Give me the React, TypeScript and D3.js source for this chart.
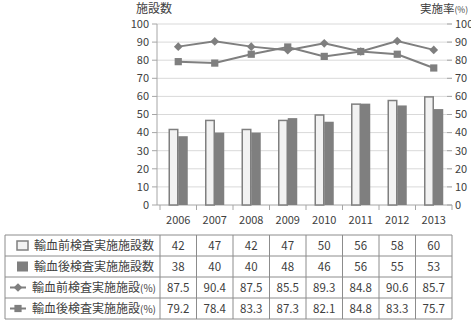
import * as d3 from 'd3'
import React from 'react'

const years = ['2006', '2007', '2008', '2009', '2010', '2011', '2012', '2013']
const preCount = [42, 47, 42, 47, 50, 56, 58, 60]
const postCount = [38, 40, 40, 48, 46, 56, 55, 53]
const preRate = [87.5, 90.4, 87.5, 85.5, 89.3, 84.8, 90.6, 85.7]
const postRate = [79.2, 78.4, 83.3, 87.3, 82.1, 84.8, 83.3, 75.7]
const seriesNames = ['輸血前検査実施施設数', '輸血後検査実施施設数', '輸血前検査実施施設', '輸血後検査実施施設']
const ticks = [0, 10, 20, 30, 40, 50, 60, 70, 80, 90, 100]

const W = 471, H = 322
const font = '"Noto Sans CJK JP", "Noto Sans", sans-serif'
const txt = '#404040'
const grey = '#7f7f7f'
const lineGrey = '#8c8c8c'

export default function App() {
  const
    x = d3.scaleBand<string>().domain(years).range([160, 452]),
    yL = d3.scaleLinear().domain([0, 100]).range([205, 24]),
    yR = d3.scaleLinear().domain([0, 100]).range([205, 24]),
    barW = 9.5,
    mid = (d: string) => x(d)! + x.bandwidth() / 2,
    line = (vals: number[]) => d3.line<number>().x((_, i) => mid(years[i])).y(v => yR(v))(vals) as string,
    diamond = d3.symbol().type(d3.symbolDiamond2).size(48)(),
    square = d3.symbol().type(d3.symbolSquare).size(52)(),
    rowTop = 235, rowH = 21, tableLeft = 5, headRight = 160,
    rows = [preCount, postCount, preRate, postRate]

  return (
    <svg width={W} height={H}
      style={{ position: 'absolute', left: 0, top: 0, display: 'block', fontFamily: font }}>
      <rect width={W} height={H} fill='#fff' />
      {/* gridlines */}
      {ticks.map(t => (
        <line key={t} x1={157} x2={452} y1={yL(t)} y2={yL(t)} stroke={t === 0 ? '#a6a6a6' : '#d9d9d9'} />
      ))}
      {/* left axis */}
      <line x1={157} x2={157} y1={yL(100)} y2={yL(0)} stroke='#a6a6a6' />
      {ticks.map(t => (
        <g key={'l' + t}>
          <line x1={152} x2={157} y1={yL(t)} y2={yL(t)} stroke='#a6a6a6' />
          <text x={149} y={yL(t)} dy='0.35em' textAnchor='end' fontSize={11} fill={txt}>{t}</text>
        </g>
      ))}
      {/* right axis */}
      {ticks.map(t => (
        <g key={'r' + t}>
          <line x1={447} x2={452} y1={yR(t)} y2={yR(t)} stroke='#a6a6a6' />
          <text x={455} y={yR(t)} dy='0.35em' textAnchor='start' fontSize={11} fill={txt}>{t}</text>
        </g>
      ))}
      {/* category ticks */}
      {years.map(d => (
        <line key={'t' + d} x1={x(d)!} x2={x(d)!} y1={yL(0)} y2={yL(0) + 5} stroke='#a6a6a6' />
      ))}
      <line x1={452} x2={452} y1={yL(0)} y2={yL(0) + 5} stroke='#a6a6a6' />
      {years.map(d => (
        <text key={'y' + d} x={mid(d)} y={220} dy='0.35em' textAnchor='middle' fontSize={11} fill={txt}>{d}</text>
      ))}
      <text x={154} y={9} dy='0.35em' textAnchor='middle' fontSize={12} fill={txt}>施設数</text>
      <text x={420} y={9} dy='0.35em' textAnchor='start' fontSize={11.5} fill={txt}>
        実施率<tspan fontSize={8.5}>(%)</tspan>
      </text>
      {/* bars */}
      {years.map((d, i) => (
        <g key={'b' + d}>
          <rect x={mid(d) - barW + 0.5} y={yL(preCount[i]) + 0.5} width={barW - 1} height={yL(0) - yL(preCount[i]) - 0.5}
            fill='#f2f2f2' stroke={grey} strokeWidth={1.5} />
          <rect x={mid(d)} y={yL(postCount[i])} width={barW} height={yL(0) - yL(postCount[i])} fill={grey} />
        </g>
      ))}
      {/* rate lines */}
      <path d={line(preRate)} fill='none' stroke={grey} strokeWidth={2} />
      <path d={line(postRate)} fill='none' stroke={grey} strokeWidth={2} />
      {preRate.map((v, i) => (
        <path key={'d' + i} d={diamond!} transform={`translate(${mid(years[i])},${yR(v)})`} fill={grey} />
      ))}
      {postRate.map((v, i) => (
        <path key={'s' + i} d={square!} transform={`translate(${mid(years[i])},${yR(v)})`} fill={grey} />
      ))}
      {/* data table */}
      <g stroke={lineGrey} strokeWidth={1}>
        {d3.range(rows.length + 1).map(r => (
          <line key={'h' + r} x1={tableLeft} x2={452} y1={rowTop + r * rowH} y2={rowTop + r * rowH} />
        ))}
        <line x1={tableLeft} x2={tableLeft} y1={rowTop} y2={rowTop + rows.length * rowH} />
        <line x1={headRight} x2={headRight} y1={rowTop} y2={rowTop + rows.length * rowH} />
        {years.map(d => (
          <line key={'v' + d} x1={x(d)! + x.bandwidth()} x2={x(d)! + x.bandwidth()} y1={rowTop} y2={rowTop + rows.length * rowH} />
        ))}
      </g>
      {rows.map((vals, r) => {
        const cy = rowTop + r * rowH + rowH / 2
        return (
          <g key={'row' + r}>
            {r === 0 && <rect x={17} y={cy - 4.5} width={11} height={9} fill='#f2f2f2' stroke={grey} strokeWidth={1.5} />}
            {r === 1 && <rect x={17} y={cy - 5} width={11} height={10} fill={grey} />}
            {r >= 2 && <line x1={10} x2={26} y1={cy} y2={cy} stroke={grey} strokeWidth={2} />}
            {r === 2 && <path d={diamond!} transform={`translate(18,${cy})`} fill={grey} />}
            {r === 3 && <path d={square!} transform={`translate(18,${cy})`} fill={grey} />}
            <text x={r >= 2 ? 32 : 34} y={cy} dy='0.35em' fontSize={12} fill={txt}>
              {seriesNames[r]}{r >= 2 && <tspan fontSize={10}>(%)</tspan>}
            </text>
            {vals.map((v, i) => (
              <text key={i} x={mid(years[i])} y={cy} dy='0.35em' textAnchor='middle' fontSize={11.5} fill={txt}>
                {r >= 2 ? v.toFixed(1) : v}
              </text>
            ))}
          </g>
        )
      })}
    </svg>
  )
}
